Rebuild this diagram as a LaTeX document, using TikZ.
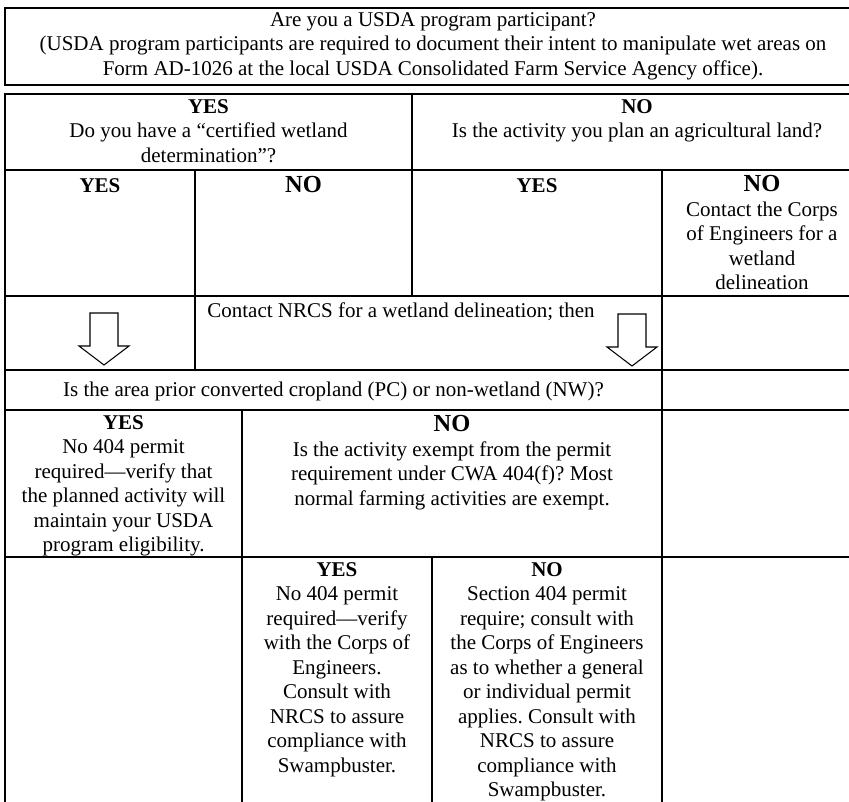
\documentclass[tikz,border=0pt]{standalone}
\usepackage{fontspec}
\setmainfont{Liberation Serif}
\newcommand\bignofont{\fontsize{14}{14}\selectfont\bfseries}
\tikzset{
    celltext/.style={anchor=north, inner sep=0pt, align=center,
        font=\fontsize{12}{14}\selectfont, execute at begin node=\strut},
    gridline/.style={line width=1.1pt, line cap=rect},
    downarrow/.pic={
        \draw[fill=white, line width=0.6pt] (-14,-33) -- (14,-33) -- (14,0)
            -- (25,0) -- (0,19) -- (-25,0) -- (-14,0) -- cycle;
    },
}

\begin{document}
\frenchspacing
\begin{tikzpicture}[x=0.5714pt, y=-0.5714pt]
    \useasboundingbox (0,0) rectangle (849,801);
    \draw[gridline] (5,8) rectangle (862,85);
    \node[celltext] (topq) at (433,12) {Are you a USDA program participant?\\
        (USDA program participants are required to document their intent to manipulate wet areas on\\
        Form AD-1026 at the local USDA Consolidated Farm Service Agency office).};
    \foreach \y in {94,170,296,370,410,557,804}
        \draw[gridline] (5,\y) -- (862,\y);
    \draw[gridline] (5,94) -- (5,804);
    \draw[gridline] (862,94) -- (862,804);
    \draw[gridline] (412,94) -- (412,296);
    \draw[gridline] (195,170) -- (195,370);
    \draw[gridline] (662,170) -- (662,804);
    \draw[gridline] (242,410) -- (242,804);
    \draw[gridline] (432,557) -- (432,804);
    \node[celltext] (yesa) at (208.5,99) {\textbf{YES}\\Do you have a “certified wetland\\determination”?};
    \node[celltext] (noa) at (637,99) {\textbf{NO}\\Is the activity you plan an agricultural land?};
    \node[celltext] (yesb) at (100,175) {\textbf{YES}};
    \node[celltext] (nob) at (303.5,175) {{\bignofont NO}};
    \node[celltext] (yesc) at (537,175) {\textbf{YES}};
    \node[celltext] (noc) at (762,175) {{\bignofont NO}\\Contact the Corps\\of Engineers for a\\wetland\\delineation};
    \node[celltext, anchor=north west] (nrcs) at (207,300) {Contact NRCS for a wetland delineation; then};
    \pic at (104,346) {downarrow};
    \pic at (632,347) {downarrow};
    \node[celltext] (pcnw) at (333.5,379) {Is the area prior converted cropland (PC) or non-wetland (NW)?};
    \node[celltext] (yesd) at (123.5,415) {\textbf{YES}\\No 404 permit\\required—verify that\\the planned activity will\\maintain your USDA\\program eligibility.};
    \node[celltext] (nod) at (452,415) {{\bignofont NO}\\Is the activity exempt from the permit\\requirement under CWA 404(f)? Most\\normal farming activities are exempt.};
    \node[celltext] (yese) at (337,562) {\textbf{YES}\\No 404 permit\\required—verify\\with the Corps of\\Engineers.\\Consult with\\NRCS to assure\\compliance with\\Swampbuster.};
    \node[celltext] (noe) at (547,562) {\textbf{NO}\\Section 404 permit\\require; consult with\\the Corps of Engineers\\as to whether a general\\or individual permit\\applies. Consult with\\NRCS to assure\\compliance with\\Swampbuster.};
\end{tikzpicture}
\end{document}
